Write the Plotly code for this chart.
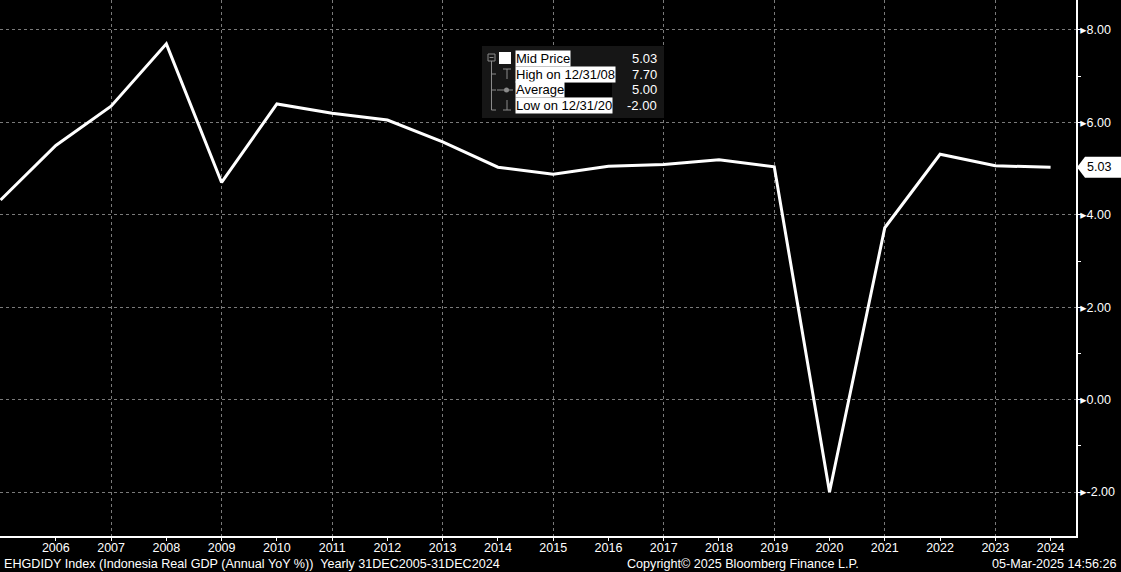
import plotly.graph_objects as go

years = list(range(2005, 2025))
gdp_yoy = [4.32, 5.50, 6.35, 7.70, 4.70, 6.40, 6.20, 6.05, 5.58, 5.03,
           4.88, 5.05, 5.09, 5.19, 5.04, -2.00, 3.72, 5.31, 5.06, 5.03]
y_ticks = [-2, 0, 2, 4, 6, 8]
y_tick_labels = ["-2.00", "0.00", "2.00", "4.00", "6.00", "8.00"]
x_tick_years = list(range(2006, 2025))
grid_years = list(range(2005, 2025, 2))
legend_rows = ["Mid Price", "High on 12/31/08", "Average", "Low on 12/31/20"]
legend_vals = ["5.03", "7.70", "5.00", "-2.00"]

W, H = 1121, 572
PL, PR, PT, PB = 0, 45, 0, 36
PW, PH = W - PL - PR, H - PT - PB

def px(x):
    return (x - PL) / PW

def py(y):
    return 1 - (y - PT) / PH

FONT = "Liberation Sans, Arial, DejaVu Sans, sans-serif"
GRID = "#7a7a7a"

fig = go.Figure()
fig.add_trace(go.Scatter(x=years, y=gdp_yoy, mode="lines",
                         line=dict(color="white", width=3), showlegend=False,
                         hoverinfo="skip"))
# dummy trace on overlay axis for vertical grid
fig.add_trace(go.Scatter(x=[years[0]], y=[gdp_yoy[0]], xaxis="x2", mode="markers",
                         marker=dict(opacity=0), showlegend=False, hoverinfo="skip"))

xr = [2004.99, 2024.46]
fig.update_layout(
    width=W, height=H,
    margin=dict(l=PL, r=PR, t=PT, b=PB, autoexpand=False),
    paper_bgcolor="black", plot_bgcolor="black",
    font=dict(family=FONT, size=12, color="white"),
    xaxis=dict(range=xr, tickvals=x_tick_years, ticktext=[str(y) for y in x_tick_years],
               showgrid=False, zeroline=False, showline=True, linecolor="white",
               linewidth=1.5, ticks="outside", ticklen=3, tickcolor="white",
               tickfont=dict(size=12.5, color="white"), fixedrange=True,
               ticklabelstandoff=-4, automargin=False),
    xaxis2=dict(range=xr, overlaying="x", tickvals=grid_years, showticklabels=False,
                showgrid=True, gridcolor=GRID, griddash="dot", gridwidth=1,
                zeroline=False, showline=False, ticks="", automargin=False),
    yaxis=dict(range=[-2.952, 8.649], side="right", tickvals=y_ticks,
               ticktext=["\u25b8" + t for t in y_tick_labels],
               showgrid=True, gridcolor=GRID, griddash="dot", gridwidth=1,
               zeroline=False, showline=True, linecolor="white", linewidth=1.5,
               ticks="", tickfont=dict(size=12.5, color="white"), automargin=False,
               minor=dict(dtick=1, tick0=0, ticks="outside", ticklen=3,
                          tickcolor="white", showgrid=False)),
)

shapes = []
annotations = []
LF = 13

# legend box
shapes.append(dict(type="rect", xref="paper", yref="paper",
                   x0=px(482), x1=px(664), y0=py(118), y1=py(46),
                   fillcolor="#161616", line=dict(width=0), layer="above"))
row_y = [58, 74, 90, 106]
for i, (lab, val) in enumerate(zip(legend_rows, legend_vals)):
    annotations.append(dict(xref="paper", yref="paper", x=px(515), y=py(row_y[i]),
                            text=lab, showarrow=False, xanchor="left", yanchor="middle",
                            font=dict(color="black", size=LF, family=FONT),
                            bgcolor="white", borderpad=0))
    annotations.append(dict(xref="paper", yref="paper", x=px(659), y=py(row_y[i]),
                            text=val, showarrow=False, xanchor="right", yanchor="middle",
                            font=dict(color="white", size=LF, family=FONT)))
# black rect after Average
shapes.append(dict(type="rect", xref="paper", yref="paper",
                   x0=px(562), x1=px(612), y0=py(97), y1=py(83),
                   fillcolor="black", line=dict(width=0), layer="above"))
# white square for mid price
shapes.append(dict(type="rect", xref="paper", yref="paper",
                   x0=px(499), x1=px(511), y0=py(64), y1=py(52),
                   fillcolor="white", line=dict(width=0), layer="above"))
# tree icons (grey)
g = "#8a8a8a"
def seg(x0, y0, x1, y1):
    shapes.append(dict(type="line", xref="paper", yref="paper",
                       x0=px(x0), y0=py(y0), x1=px(x1), y1=py(y1),
                       line=dict(color=g, width=1), layer="above"))
shapes.append(dict(type="rect", xref="paper", yref="paper",
                   x0=px(488), x1=px(495), y0=py(61), y1=py(54),
                   line=dict(color=g, width=1), fillcolor="rgba(0,0,0,0)", layer="above"))
seg(489.5, 57.5, 493.5, 57.5)
seg(491.5, 61, 491.5, 110)
seg(491.5, 74, 496, 74)
seg(491.5, 90, 496, 90)
seg(491.5, 110, 496, 110)
# high icon
seg(503, 69, 511, 69); seg(507, 69, 507, 79)
# average icon
seg(497, 90, 513, 90)
shapes.append(dict(type="circle", xref="paper", yref="paper",
                   x0=px(504), x1=px(509), y0=py(92.5), y1=py(87.5),
                   fillcolor=g, line=dict(width=0), layer="above"))
# low icon
seg(507, 100, 507, 110); seg(503, 110, 511, 110)

# last value tag
last = gdp_yoy[-1]
h = 10.5 / 46.2
x_a, x_b, x_c = px(1077), px(1085), px(1121)
shapes.append(dict(type="path", xref="paper", yref="y",
                   path=f"M {x_a} {last} L {x_b} {last + h} L {x_c} {last + h} "
                        f"L {x_c} {last - h} L {x_b} {last - h} Z",
                   fillcolor="white", line=dict(width=0), layer="above"))
annotations.append(dict(xref="paper", yref="y", x=px(1099), y=last,
                        text=f"{last:.2f}", showarrow=False, xanchor="center",
                        yanchor="middle", font=dict(color="black", size=12.5, family=FONT)))

# footer
FF = 12.6
annotations.append(dict(xref="paper", yref="paper", x=px(2), y=py(564),
                        text="EHGDIDY Index (Indonesia Real GDP (Annual YoY %))  Yearly 31DEC2005-31DEC2024",
                        showarrow=False, xanchor="left", yanchor="middle",
                        font=dict(color="white", size=FF, family=FONT)))
annotations.append(dict(xref="paper", yref="paper", x=px(743), y=py(564),
                        text="Copyright\u00a9 2025 Bloomberg Finance L.P.",
                        showarrow=False, xanchor="center", yanchor="middle",
                        font=dict(color="white", size=FF, family=FONT)))
annotations.append(dict(xref="paper", yref="paper", x=px(1119), y=py(564),
                        text="05-Mar-2025 14:56:26",
                        showarrow=False, xanchor="right", yanchor="middle",
                        font=dict(color="white", size=FF, family=FONT)))

fig.update_layout(shapes=shapes, annotations=annotations)
fig.write_html("out.html", config={"displayModeBar": False},
               post_script="document.body.style.margin='0';document.body.style.background='black';")
